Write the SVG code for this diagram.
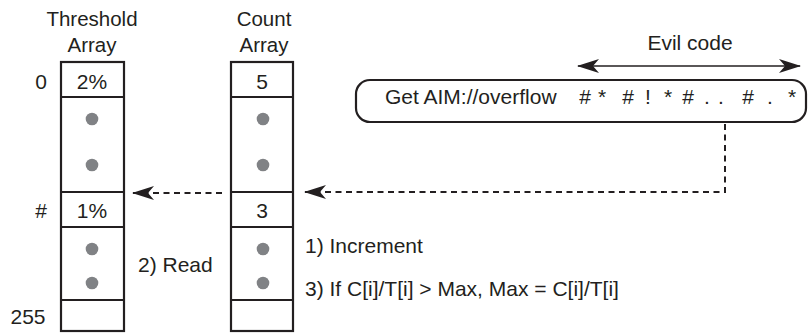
<svg xmlns="http://www.w3.org/2000/svg" width="808" height="333" viewBox="0 0 808 333">
<style>
text{font-family:"Liberation Sans",Arial,sans-serif;font-size:21px;fill:#231f20}
.h{font-size:20.5px}
.m{text-anchor:middle}
.cell{fill:none;stroke:#231f20;stroke-width:2.2}
.dot{fill:#808285}
.dash{fill:none;stroke:#231f20;stroke-width:2;stroke-dasharray:6,4.5}
.solid{fill:none;stroke:#231f20;stroke-width:1.6}
</style>
<defs>
<marker id="ah" viewBox="0 0 22 14" refX="21" refY="7" markerWidth="22" markerHeight="14" markerUnits="userSpaceOnUse" orient="auto-start-reverse">
<path d="M0,0 L22,7 L0,14 L6,7 Z" fill="#231f20"/>
</marker>
</defs>
<rect width="808" height="333" fill="#fff"/>
<g id="threshold-array">
<text class="m h" x="92" y="26">Threshold</text>
<text class="m h" x="92" y="52">Array</text>
<rect class="cell" x="61" y="62" width="63" height="269"/>
<line class="cell" x1="61" y1="97" x2="124" y2="97"/>
<line class="cell" x1="61" y1="192" x2="124" y2="192"/>
<line class="cell" x1="61" y1="227" x2="124" y2="227"/>
<line class="cell" x1="61" y1="300" x2="124" y2="300"/>
<text class="m" x="92" y="89">2%</text>
<text class="m" x="92" y="218">1%</text>
<circle class="dot" cx="92" cy="119" r="6.3"/>
<circle class="dot" cx="92" cy="165" r="6.3"/>
<circle class="dot" cx="92" cy="249" r="6.3"/>
<circle class="dot" cx="92" cy="283" r="6.3"/>
<text class="m" x="41" y="89">0</text>
<text class="m" x="41" y="218">#</text>
<text class="m" x="28" y="324">255</text>
</g>
<g id="count-array">
<text class="m h" x="264" y="26">Count</text>
<text class="m h" x="264" y="52">Array</text>
<rect class="cell" x="231" y="62" width="62" height="269"/>
<line class="cell" x1="231" y1="97" x2="293" y2="97"/>
<line class="cell" x1="231" y1="192" x2="293" y2="192"/>
<line class="cell" x1="231" y1="227" x2="293" y2="227"/>
<line class="cell" x1="231" y1="300" x2="293" y2="300"/>
<text class="m" x="262" y="89">5</text>
<text class="m" x="262" y="218">3</text>
<circle class="dot" cx="263" cy="119" r="6.3"/>
<circle class="dot" cx="263" cy="165" r="6.3"/>
<circle class="dot" cx="263" cy="249" r="6.3"/>
<circle class="dot" cx="263" cy="283" r="6.3"/>
</g>
<g id="request">
<rect class="cell" x="356" y="80" width="450" height="42" rx="14" ry="14"/>
<text x="385" y="104">Get AIM://overflow</text>
<text class="m" y="104"><tspan x="585">#</tspan><tspan x="602">*</tspan><tspan x="628">#</tspan><tspan x="648">!</tspan><tspan x="668">*</tspan><tspan x="688">#</tspan><tspan x="707">.</tspan><tspan x="721">.</tspan><tspan x="748">#</tspan><tspan x="770">.</tspan><tspan x="792">*</tspan></text>
</g>
<g id="evil-code">
<text class="m" x="690" y="50">Evil code</text>
</g>
<g id="steps">
<text x="138" y="272">2) Read</text>
<text x="305" y="253">1) Increment</text>
<text x="305" y="296">3) If C[i]/T[i] &gt; Max, Max = C[i]/T[i]</text>
</g>
<g id="connectors">
<line class="solid" x1="578" y1="66" x2="800" y2="66" marker-start="url(#ah)" marker-end="url(#ah)"/>
<polyline class="dash" points="725,124 725,192 305,192" marker-end="url(#ah)"/>
<line class="dash" x1="222" y1="193" x2="133" y2="193" marker-end="url(#ah)"/>
</g>
</svg>
